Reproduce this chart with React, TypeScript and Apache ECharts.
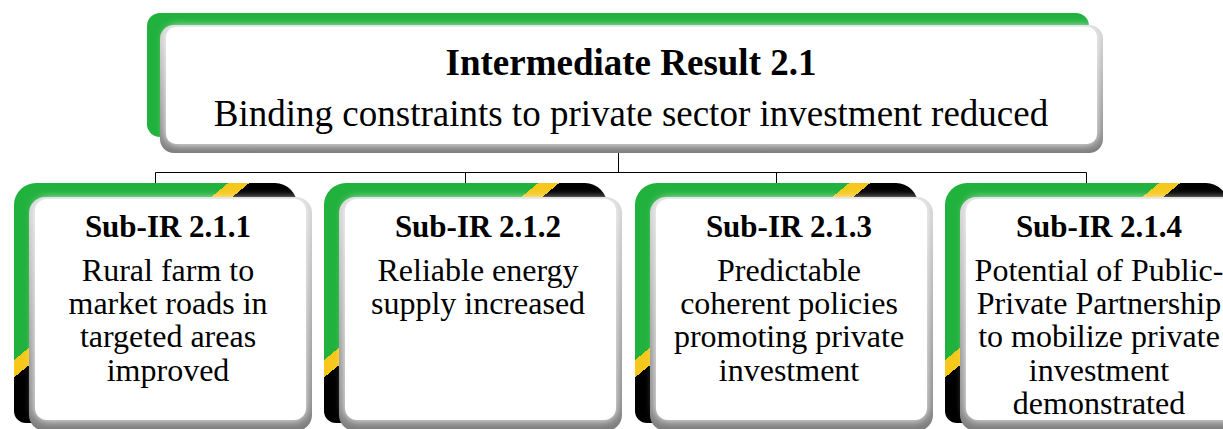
import React, { useEffect, useRef } from "react";
import * as echarts from "echarts";

const headerTitle = "Intermediate Result 2.1";
const headerText = "Binding constraints to private sector investment reduced";
const subTitles = ["Sub-IR 2.1.1", "Sub-IR 2.1.2", "Sub-IR 2.1.3", "Sub-IR 2.1.4"];
const subTexts = [
  ["Rural farm to", "market roads in", "targeted areas", "improved"],
  ["Reliable energy", "supply increased"],
  ["Predictable", "coherent policies", "promoting private", "investment"],
  ["Potential of Public-", "Private Partnership", "to mobilize private", "investment", "demonstrated"],
];

const FONT = '"Liberation Serif", "Times New Roman", serif';
const GREEN = "#21b13d";
const YELLOW = "#f6c81c";
const BLACK = "#000000";

function buildGraphic() {
  const els: any[] = [];
  const line = (x1: number, y1: number, x2: number, y2: number) => ({
    type: "line",
    shape: { x1, y1, x2, y2 },
    style: { stroke: "#000", lineWidth: 1 },
    z: 1,
  });
  const bevelFill = {
    type: "linear", x: 0, y: 0, x2: 0, y2: 1,
    colorStops: [
      { offset: 0, color: "#d6d6d6" },
      { offset: 1, color: "#7c7c7c" },
    ],
  };

  // connectors
  const lefts = subTitles.map((_, i) => Math.round(14 + i * 310.4));
  const drops = lefts.map((l) => l + 141);
  els.push(line(618.5, 152, 618.5, 172.5));
  els.push(line(drops[0] + 0.5, 172.5, drops[drops.length - 1] + 0.5, 172.5));
  drops.forEach((d) => els.push(line(d + 0.5, 172.5, d + 0.5, 195)));

  // header box
  els.push({ type: "rect", z: 2, shape: { x: 147, y: 13, width: 942, height: 124, r: 13 }, style: { fill: GREEN } });
  els.push({ type: "rect", z: 3, shape: { x: 160, y: 25, width: 943, height: 128, r: 14 }, style: { fill: bevelFill } });
  els.push({
    type: "rect", z: 4,
    shape: { x: 166, y: 27, width: 931, height: 117, r: 10 },
    style: { fill: "#fff", shadowBlur: 10, shadowColor: "#ffffff" },
  });
  els.push({
    type: "text", z: 5, x: 631, y: 62,
    style: { text: headerTitle, font: `bold 37px ${FONT}`, fill: "#000", textAlign: "center", textVerticalAlign: "middle" },
  });
  els.push({
    type: "text", z: 5, x: 631, y: 113,
    style: { text: headerText, font: `37px ${FONT}`, fill: "#000", textAlign: "center", textVerticalAlign: "middle" },
  });

  // sub boxes
  subTitles.forEach((title, i) => {
    const L = lefts[i];
    els.push({
      type: "rect", z: 2,
      shape: { x: L, y: 183, width: 283, height: 240, r: [22, 22, 12, 12] },
      style: {
        fill: {
          type: "linear", global: true,
          x: L, y: 183, x2: L + 167, y2: 183 + 202,
          colorStops: [
            { offset: 0, color: GREEN },
            { offset: 0.521, color: GREEN },
            { offset: 0.521, color: YELLOW },
            { offset: 0.572, color: YELLOW },
            { offset: 0.572, color: BLACK },
            { offset: 1, color: BLACK },
          ],
        },
      },
    });
    els.push({ type: "rect", z: 3, shape: { x: L + 15, y: 197, width: 283, height: 234, r: 16 }, style: { fill: bevelFill } });
    els.push({
      type: "rect", z: 4,
      shape: { x: L + 21, y: 199, width: 271, height: 221, r: 12 },
      style: { fill: "#fff", shadowBlur: 10, shadowColor: "#ffffff" },
    });
    const cx = L + 154;
    els.push({
      type: "text", z: 5, x: cx, y: 226,
      style: { text: title, font: `bold 31px ${FONT}`, fill: "#000", textAlign: "center", textVerticalAlign: "middle" },
    });
    els.push({
      type: "text", z: 5, x: cx, y: 253,
      style: {
        text: subTexts[i].join("\n"), font: `32px ${FONT}`, lineHeight: 33.3,
        fill: "#000", textAlign: "center", textVerticalAlign: "top",
      },
    });
  });
  return els;
}

export default function App() {
  const ref = useRef<HTMLDivElement>(null);
  useEffect(() => {
    if (!ref.current) return;
    const chart = echarts.init(ref.current, undefined, { renderer: "svg" });
    chart.setOption({
      animation: false,
      backgroundColor: "#ffffff",
      graphic: { elements: buildGraphic() },
    });
    return () => chart.dispose();
  }, []);
  return (
    <div
      ref={ref}
      style={{ position: "fixed", left: 0, top: 0, width: 1223, height: 429, background: "#fff" }}
    />
  );
}
